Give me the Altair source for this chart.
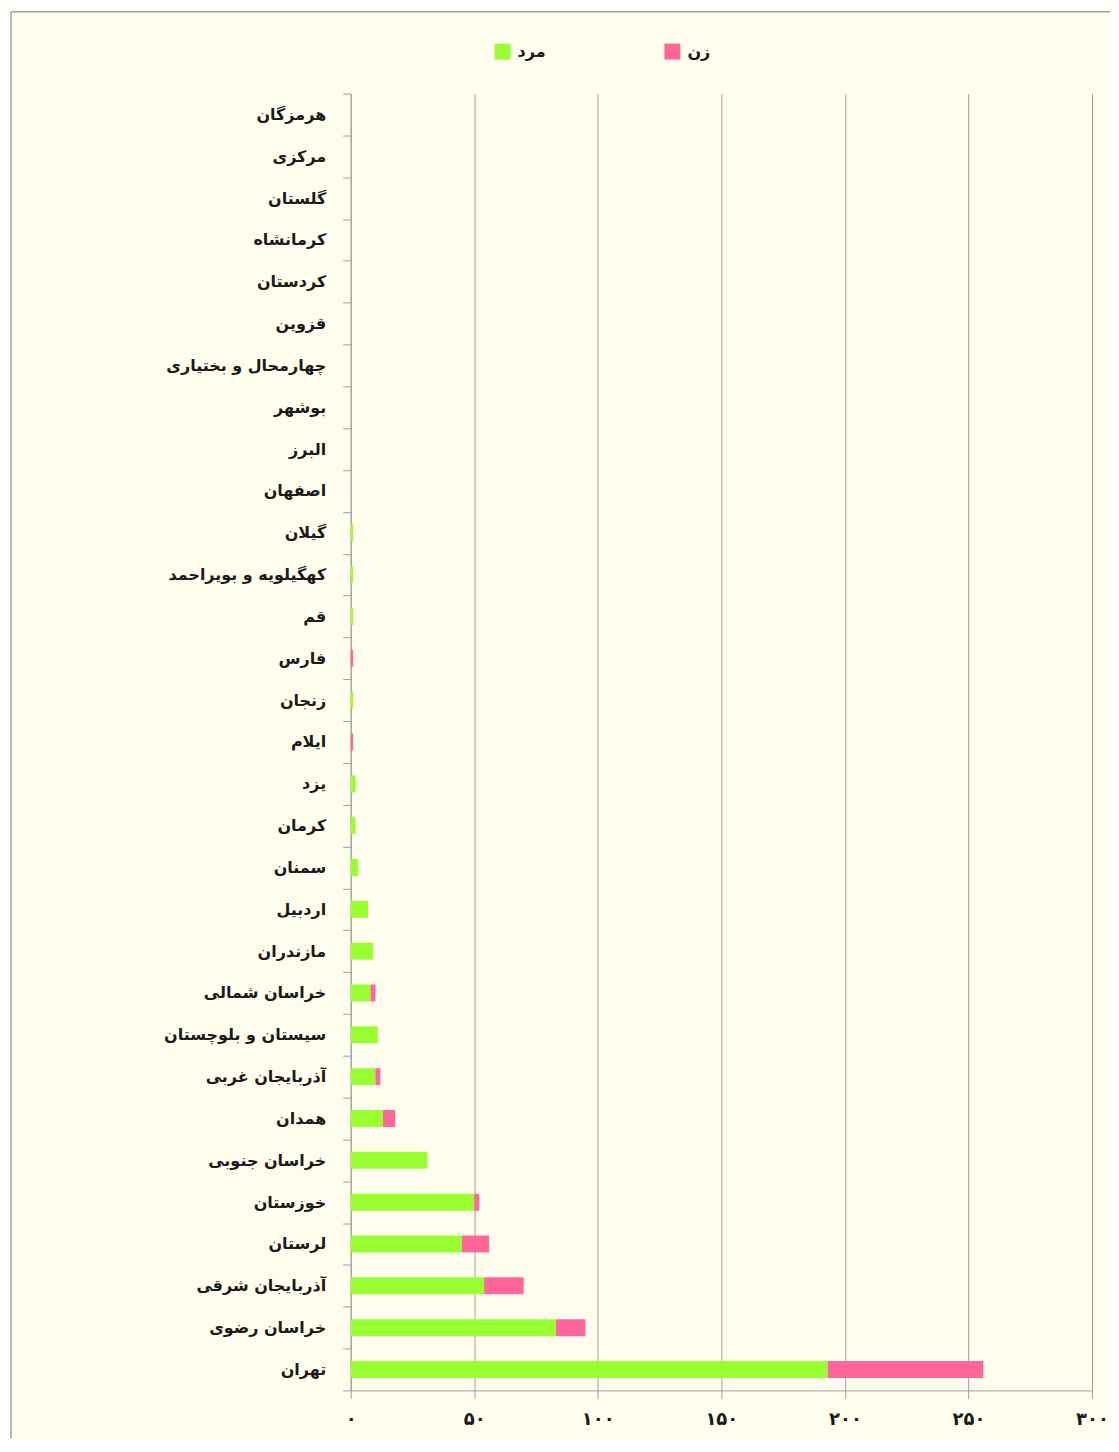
import altair as alt
import pandas as pd

provinces = [
    "هرمزگان", "مرکزی", "گلستان", "کرمانشاه", "کردستان", "قزوین",
    "چهارمحال و بختیاری", "بوشهر", "البرز", "اصفهان", "گیلان",
    "کهگیلویه و بویراحمد", "قم", "فارس", "زنجان", "ایلام", "یزد", "کرمان",
    "سمنان", "اردبیل", "مازندران", "خراسان شمالی", "سیستان و بلوچستان",
    "آذربایجان غربی", "همدان", "خراسان جنوبی", "خوزستان", "لرستان",
    "آذربایجان شرقی", "خراسان رضوی", "تهران",
]
male = [0, 0, 0, 0, 0, 0, 0, 0, 0, 0, 1, 1, 1, 0, 1, 0, 2, 2, 3, 7, 9, 8, 11,
        10, 13, 31, 50, 45, 54, 83, 193]
female = [0, 0, 0, 0, 0, 0, 0, 0, 0, 0, 0, 0, 0, 1, 0, 1, 0, 0, 0, 0, 0, 2, 0,
          2, 5, 0, 2, 11, 16, 12, 63]
series = ["مرد", "زن"]
colors = ["#99ff33", "#ff6699"]
tick_values = [0, 50, 100, 150, 200, 250, 300]
tick_labels = ["۰", "۵۰", "۱۰۰", "۱۵۰", "۲۰۰", "۲۵۰", "۳۰۰"]

rows = []
for p, m, f in zip(provinces, male, female):
    rows.append({"province": p, "gender": series[0], "value": m, "ord": 0})
    rows.append({"province": p, "gender": series[1], "value": f, "ord": 1})
df = pd.DataFrame(rows)

FONT = "DejaVu Sans"
GRAY = "#a0a0a0"

label_expr = "[{}][indexof([{}], datum.value)]".format(
    ",".join("'" + t + "'" for t in tick_labels),
    ",".join(str(v) for v in tick_values),
)

bars = alt.Chart(df).mark_bar(size=17).encode(
    x=alt.X("value:Q", stack="zero",
            scale=alt.Scale(domain=[0, 300], nice=False),
            axis=alt.Axis(values=tick_values, labelExpr=label_expr, title=None,
                          grid=True, gridColor=GRAY, domainColor=GRAY,
                          tickColor=GRAY, tickSize=8, labelPadding=12,
                          labelFlush=False,
                          labelFont=FONT, labelFontSize=18,
                          labelFontWeight="bold", labelColor="#1a1a1a")),
    y=alt.Y("province:N", sort=provinces,
            scale=alt.Scale(paddingInner=0, paddingOuter=0),
            axis=alt.Axis(title=None, grid=False, domainColor=GRAY,
                          tickColor=GRAY, tickSize=8, tickBand="extent",
                          labelPadding=17, labelFont=FONT, labelFontSize=16,
                          labelFontWeight="bold", labelColor="#1a1a1a",
                          labelLimit=400)),
    color=alt.Color("gender:N", sort=series,
                    scale=alt.Scale(domain=series, range=colors),
                    legend=alt.Legend(title=None, orient="none", legendX=144,
                                      legendY=-50, direction="horizontal",
                                      symbolType="square", symbolSize=256,
                                      symbolStrokeWidth=0, labelFont=FONT,
                                      labelFontSize=16, labelFontWeight="bold",
                                      labelColor="#1a1a1a", labelOffset=7,
                                      columnPadding=118)),
    order=alt.Order("ord:Q"),
)

one = pd.DataFrame({"a": [0]})
border_left = alt.Chart(one).mark_rule(color=GRAY, strokeWidth=1.5).encode(
    x=alt.value(-340), y=alt.value(-82), y2=alt.value(1346))
border_top = alt.Chart(one).mark_rule(color=GRAY, strokeWidth=1.5).encode(
    x=alt.value(-340), x2=alt.value(760), y=alt.value(-82))

chart = alt.layer(border_left, border_top, bars).properties(
    width=742, height=1298,
    padding={"left": 2, "top": 2, "right": 0, "bottom": 0},
    background="#fffeee",
).configure_view(stroke=None)

chart.save("out.html", embed_options={"renderer": "svg", "actions": False})
